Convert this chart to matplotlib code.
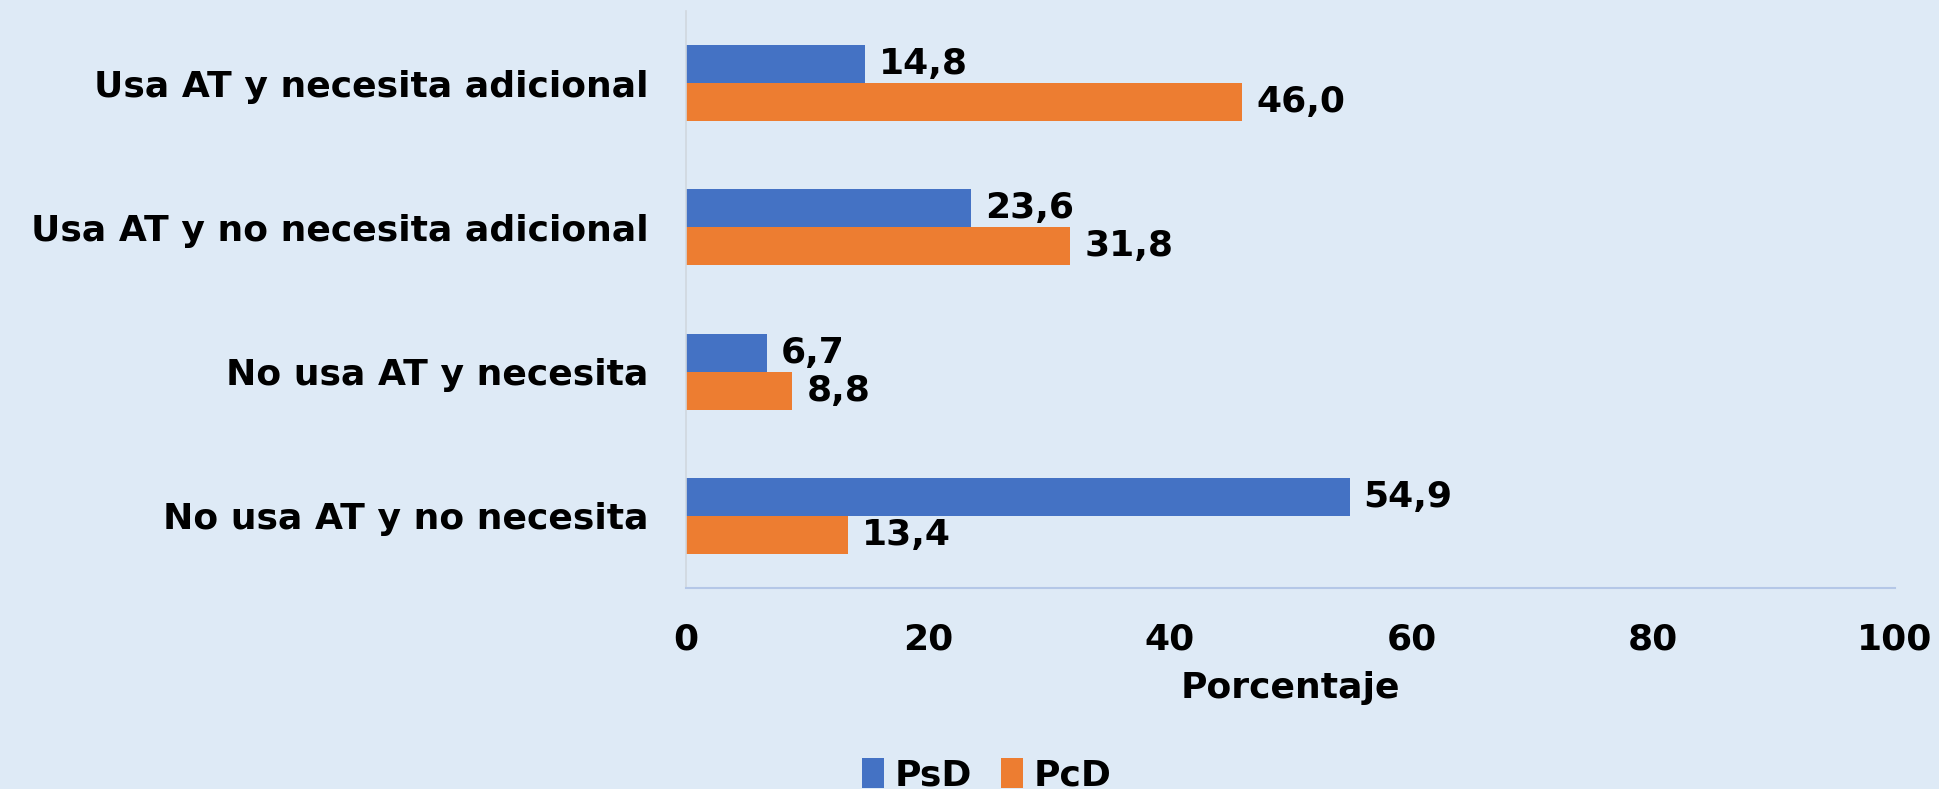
import matplotlib
matplotlib.use("Agg")
import matplotlib.pyplot as plt
import numpy as np

categories = ["Usa AT y necesita adicional", "Usa AT y no necesita adicional",
              "No usa AT y necesita", "No usa AT y no necesita"]
psd = [14.8, 23.6, 6.7, 54.9]
pcd = [46.0, 31.8, 8.8, 13.4]
series_names = ["PsD", "PcD"]
xticks = [0, 20, 40, 60, 80, 100]

BG = "#DEEAF6"
BLUE = "#4472C4"
ORANGE = "#ED7D31"
FS = 26

plt.rcParams['font.family'] = ['DejaVu Sans']
fig = plt.figure(figsize=(19.39, 7.89), dpi=100, facecolor=BG)
ax = fig.add_axes([686/1939, 201/789, 1209/1939, 577/789])
ax.set_facecolor(BG)

y = np.arange(len(categories))
h = 0.264
b1 = ax.barh(y - h/2, psd, height=h, color=BLUE, label=series_names[0])
b2 = ax.barh(y + h/2, pcd, height=h, color=ORANGE, label=series_names[1])

for bars, vals in ((b1, psd), (b2, pcd)):
    for rect, v in zip(bars, vals):
        ax.annotate(f"{v:.1f}".replace(".", ","),
                    xy=(rect.get_width(), rect.get_y() + rect.get_height()/2),
                    xytext=(10, 0), textcoords="offset points",
                    ha="left", va="center", fontsize=FS, fontweight="bold", color="black")

ax.set_ylim(len(categories) - 0.5, -0.5)
ax.set_xlim(0, 100)
ax.set_yticks(y)
ax.set_yticklabels(categories, fontsize=FS, fontweight="bold")
ax.set_xticks(xticks)
ax.set_xticklabels([str(t) for t in xticks], fontsize=FS, fontweight="bold")
ax.tick_params(axis="both", length=0)
ax.tick_params(axis="y", pad=27)
ax.tick_params(axis="x", pad=25)
ax.set_xlabel("Porcentaje", fontsize=FS, fontweight="bold", labelpad=10)

for s in ("top", "right"):
    ax.spines[s].set_visible(False)
ax.spines["left"].set_color("#D0D7DE")
ax.spines["left"].set_linewidth(1.2)
ax.spines["bottom"].set_color("#B4C7E7")
ax.spines["bottom"].set_linewidth(1.5)

leg = fig.legend(handles=[b1, b2], labels=series_names, loc="center",
                 bbox_to_anchor=(987/1939, 1 - 775/789), ncol=2, frameon=False,
                 prop={"size": FS, "weight": "bold"}, handlelength=0.6, handleheight=0.9,
                 handletextpad=0.3, columnspacing=0.8)

fig.savefig("out.png", dpi=100, facecolor=BG)
